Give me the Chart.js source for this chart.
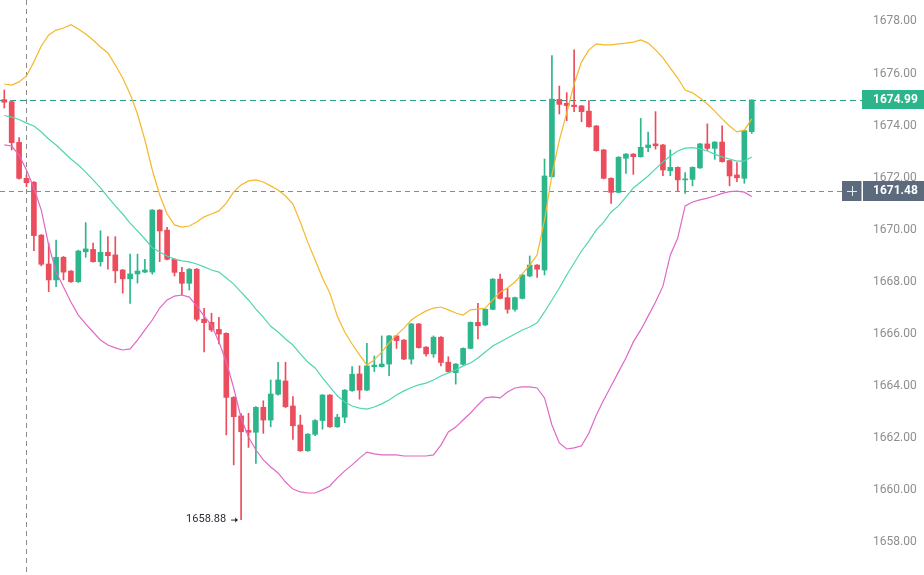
<!DOCTYPE html>
<html>
<head>
<meta charset="utf-8">
<script src="https://cdn.jsdelivr.net/npm/chart.js@4.4.1/dist/chart.umd.min.js"></script>
<style>
  html, body { margin: 0; padding: 0; background: #ffffff; }
  #wrap { width: 924px; height: 575px; position: relative; }
</style>
</head>
<body>
<div id="wrap"><canvas id="c" width="924" height="575"></canvas></div>
<script>
// ---------------- DATA ----------------
const opens = [1675.00,1674.92,1673.36,1671.98,1671.83,1669.80,1668.69,1668.08,1668.95,1668.42,
1668.01,1669.16,1669.25,1668.78,1669.14,1669.04,1668.46,1668.12,1668.31,1668.38,
1668.38,1670.76,1669.99,1668.87,1668.37,1667.95,1668.49,1666.57,1666.45,1666.18,
1666.03,1663.57,1662.86,1662.30,1662.23,1663.19,1662.70,1663.69,1664.20,1663.24,
1662.51,1661.52,1662.15,1662.68,1663.66,1662.44,1662.81,1663.83,1664.47,1663.85,
1664.75,1664.75,1664.85,1665.93,1665.77,1665.04,1666.39,1665.50,1665.24,1665.88,
1664.92,1664.52,1664.84,1665.45,1666.45,1666.35,1666.95,1668.11,1667.40,1666.95,
1667.37,1668.23,1668.65,1668.46,1672.04,1675.01,1674.86,1674.79,1674.76,1674.56,
1673.99,1673.07,1671.98,1671.44,1672.75,1672.91,1672.81,1673.16,1673.30,1673.26,
1672.27,1672.40,1671.92,1671.94,1672.38,1673.30,1673.13,1673.37,1672.66,1672.11,
1671.98,1673.77];
const highs = [1675.37,1674.96,1673.54,1672.10,1671.85,1669.82,1669.49,1669.61,1668.98,1668.44,
1669.22,1670.28,1669.49,1669.97,1669.74,1669.74,1668.48,1669.07,1669.07,1668.87,
1670.78,1670.78,1670.10,1668.90,1668.56,1668.52,1668.52,1666.99,1666.80,1666.64,
1666.05,1663.60,1662.95,1662.96,1663.22,1663.44,1664.24,1664.92,1664.92,1663.60,
1662.89,1662.18,1662.72,1663.68,1663.68,1662.92,1663.87,1664.75,1664.78,1665.65,
1665.16,1665.93,1665.95,1665.95,1665.79,1666.41,1666.41,1665.52,1665.93,1665.90,
1665.13,1664.87,1665.47,1666.47,1667.18,1666.97,1668.13,1668.30,1667.76,1667.42,
1668.29,1669.00,1668.67,1672.72,1676.69,1675.52,1675.27,1676.91,1674.78,1674.96,
1674.01,1673.09,1672.00,1672.81,1672.93,1672.93,1674.28,1673.75,1674.54,1673.28,
1673.07,1672.42,1672.20,1672.42,1673.32,1674.07,1673.39,1673.99,1672.68,1672.58,
1673.83,1674.99];
const lows = [1674.68,1673.07,1671.95,1671.66,1669.20,1668.62,1667.63,1667.82,1668.08,1667.98,
1667.98,1668.95,1668.76,1668.61,1668.49,1667.97,1667.57,1667.18,1667.96,1668.36,
1668.30,1668.78,1668.85,1668.23,1667.50,1667.69,1666.50,1665.32,1666.10,1665.62,
1662.13,1660.98,1658.88,1661.65,1661.04,1662.19,1662.44,1663.66,1663.18,1661.96,
1661.50,1661.50,1662.10,1662.35,1662.42,1662.42,1662.60,1663.80,1663.50,1663.83,
1664.56,1664.73,1664.40,1665.45,1665.02,1664.85,1665.46,1665.15,1665.11,1664.78,
1664.54,1664.08,1664.82,1665.43,1665.81,1666.33,1666.93,1667.35,1666.80,1666.88,
1667.35,1668.20,1668.18,1668.27,1672.02,1674.45,1674.19,1674.54,1674.15,1673.94,
1673.02,1671.96,1671.02,1671.42,1672.17,1672.13,1672.79,1673.00,1673.10,1672.08,
1672.08,1671.49,1671.40,1671.69,1672.36,1673.05,1672.71,1672.60,1671.69,1671.85,
1671.79,1673.70];
const closes = [1674.90,1673.35,1671.98,1671.81,1669.78,1668.68,1668.08,1668.95,1668.38,1668.01,
1669.19,1669.27,1668.78,1669.14,1669.01,1668.43,1668.12,1668.31,1668.42,1668.46,
1670.76,1669.96,1668.87,1668.37,1667.95,1668.49,1666.57,1666.44,1666.16,1666.00,
1663.57,1662.83,1662.25,1662.23,1663.19,1662.70,1663.70,1664.24,1663.21,1662.48,
1661.52,1662.16,1662.68,1663.66,1662.44,1662.81,1663.85,1664.46,1663.85,1664.78,
1664.81,1664.85,1665.93,1665.75,1665.04,1666.39,1665.48,1665.24,1665.88,1664.91,
1664.56,1664.85,1665.45,1666.45,1666.32,1666.95,1668.11,1667.37,1666.95,1667.40,
1668.27,1668.65,1668.49,1672.07,1675.02,1674.82,1674.77,1674.73,1674.54,1673.96,
1673.04,1671.98,1671.44,1672.79,1672.91,1672.81,1673.17,1673.26,1673.23,1672.30,
1672.40,1671.92,1671.95,1672.40,1673.30,1673.13,1673.37,1672.62,1672.07,1672.00,
1673.81,1674.99];

const bollUpper = [1675.60,1675.56,1675.68,1675.91,1676.45,1677.06,1677.48,1677.67,1677.75,1677.88,
1677.71,1677.52,1677.29,1677.02,1676.79,1676.33,1675.83,1675.22,1674.45,1673.45,
1672.30,1671.34,1670.61,1670.19,1670.11,1670.15,1670.30,1670.50,1670.61,1670.73,
1671.03,1671.46,1671.72,1671.88,1671.92,1671.84,1671.69,1671.53,1671.30,1670.99,
1670.30,1669.53,1668.85,1668.15,1667.57,1666.69,1666.08,1665.62,1665.20,1664.81,
1665.01,1665.31,1665.66,1665.96,1666.23,1666.54,1666.73,1666.89,1667.00,1667.04,
1666.93,1666.81,1666.73,1666.93,1666.96,1667.00,1667.31,1667.61,1667.77,1668.00,
1668.31,1668.65,1669.04,1670.38,1672.11,1673.45,1674.49,1675.60,1676.45,1676.91,
1677.14,1677.10,1677.10,1677.14,1677.17,1677.21,1677.29,1677.17,1676.91,1676.60,
1676.21,1675.83,1675.37,1675.26,1675.06,1674.83,1674.56,1674.26,1673.99,1673.76,
1673.83,1674.26];
const bollMiddle = [1674.39,1674.33,1674.24,1674.10,1673.99,1673.76,1673.49,1673.26,1672.99,1672.72,
1672.49,1672.22,1671.92,1671.61,1671.26,1670.92,1670.61,1670.26,1669.96,1669.65,
1669.31,1669.15,1669.00,1668.88,1668.81,1668.77,1668.69,1668.58,1668.46,1668.38,
1668.15,1667.92,1667.61,1667.31,1666.96,1666.65,1666.30,1666.08,1665.81,1665.58,
1665.24,1664.93,1664.70,1664.32,1663.97,1663.63,1663.39,1663.24,1663.16,1663.12,
1663.20,1663.32,1663.47,1663.66,1663.82,1663.95,1664.05,1664.12,1664.24,1664.39,
1664.51,1664.62,1664.78,1664.89,1665.08,1665.31,1665.54,1665.70,1665.85,1666.00,
1666.16,1666.27,1666.43,1666.85,1667.31,1667.77,1668.27,1668.73,1669.19,1669.57,
1670.00,1670.30,1670.69,1670.92,1671.26,1671.61,1671.84,1672.07,1672.34,1672.61,
1672.84,1673.03,1673.14,1673.16,1673.11,1673.03,1672.91,1672.80,1672.72,1672.64,
1672.64,1672.80];
const bollLower = [1673.26,1673.22,1672.87,1672.30,1671.61,1670.76,1669.42,1668.38,1667.81,1667.23,
1666.73,1666.39,1666.08,1665.77,1665.58,1665.47,1665.39,1665.43,1665.77,1666.16,
1666.54,1667.00,1667.31,1667.46,1667.50,1667.42,1667.08,1666.69,1666.35,1665.70,
1664.93,1663.93,1662.78,1662.05,1661.55,1661.17,1660.90,1660.67,1660.32,1660.05,
1659.94,1659.90,1659.90,1660.02,1660.17,1660.48,1660.75,1660.98,1661.24,1661.47,
1661.40,1661.36,1661.36,1661.36,1661.32,1661.32,1661.32,1661.32,1661.36,1661.74,
1662.24,1662.43,1662.70,1662.97,1663.28,1663.55,1663.59,1663.55,1663.78,1663.93,
1663.97,1663.97,1663.93,1663.55,1662.51,1661.82,1661.59,1661.63,1661.71,1662.20,
1662.89,1663.47,1664.01,1664.55,1665.08,1665.70,1666.16,1666.69,1667.23,1667.84,
1669.04,1669.69,1670.92,1671.07,1671.15,1671.22,1671.30,1671.40,1671.47,1671.49,
1671.45,1671.28];

const priceTicks = [1658,1660,1662,1664,1666,1668,1670,1672,1674,1676,1678];
const lastPrice = 1674.99;
const crosshairPrice = 1671.48;
const crosshairIndex = 3;
const minLowIndex = 32;

// ---------------- STYLE ----------------
const UP = '#2db68c';
const DOWN = '#eb4d5c';
const candleColor = opens.map((o, i) => closes[i] >= o ? UP : DOWN);

const wickData = lows.map((l, i) => ({ x: i, y: [l, highs[i]] }));
const bodyData = opens.map((o, i) => ({ x: i, y: [o, closes[i]] }));
const lineData = arr => arr.map((v, i) => ({ x: i, y: v }));

const overlayPlugin = {
  id: 'overlay',
  beforeDatasetsDraw(chart) {
    const { ctx, chartArea, scales } = chart;
    const xs = scales.x, ys = scales.y;
    ctx.save();
    ctx.lineWidth = 1;
    const cx = Math.round(xs.getPixelForValue(crosshairIndex)) + 0.5;
    ctx.strokeStyle = '#8a8a8a';
    ctx.setLineDash([5, 4]);
    ctx.beginPath(); ctx.moveTo(cx, 0); ctx.lineTo(cx, chart.height); ctx.stroke();
    const cy = Math.round(ys.getPixelForValue(crosshairPrice)) + 0.5;
    ctx.beginPath(); ctx.moveTo(0, cy); ctx.lineTo(chartArea.right - 20, cy); ctx.stroke();
    const ly = Math.round(ys.getPixelForValue(lastPrice)) + 0.5;
    ctx.strokeStyle = '#2a9d86';
    ctx.setLineDash([6, 4]);
    ctx.beginPath(); ctx.moveTo(0, ly); ctx.lineTo(chartArea.right, ly); ctx.stroke();
    ctx.restore();
  },
  afterDraw(chart) {
    const { ctx, chartArea, scales } = chart;
    const xs = scales.x, ys = scales.y;
    ctx.save();
    const right = chart.width;
    const axL = chartArea.right;
    const ly = ys.getPixelForValue(lastPrice);
    ctx.fillStyle = '#2cb48b';
    ctx.fillRect(axL, Math.round(ly) - 10, right - axL, 19);
    ctx.fillStyle = '#ffffff';
    ctx.font = 'bold 12px Roboto, "DejaVu Sans", sans-serif';
    ctx.textBaseline = 'middle';
    ctx.textAlign = 'left';
    ctx.fillText(lastPrice.toFixed(2), axL + 11, Math.round(ly));
    const cy = ys.getPixelForValue(crosshairPrice);
    ctx.fillStyle = '#5c6a7e';
    ctx.fillRect(axL - 20, Math.round(cy) - 10, 19.5, 20);
    ctx.fillRect(axL + 1, Math.round(cy) - 10, right - axL - 1, 20);
    ctx.strokeStyle = '#e8ebef';
    ctx.lineWidth = 1;
    const px = axL - 10, py = Math.round(cy);
    ctx.beginPath();
    ctx.moveTo(px - 5, py + 0.5); ctx.lineTo(px + 5, py + 0.5);
    ctx.moveTo(px + 0.5, py - 5); ctx.lineTo(px + 0.5, py + 5);
    ctx.stroke();
    ctx.fillStyle = '#ffffff';
    ctx.fillText(crosshairPrice.toFixed(2), axL + 11, py);
    const mx = xs.getPixelForValue(minLowIndex);
    const my = ys.getPixelForValue(lows[minLowIndex]);
    ctx.fillStyle = '#2b2b38';
    ctx.font = '11px Roboto, "DejaVu Sans", sans-serif';
    ctx.textAlign = 'right';
    ctx.fillText(lows[minLowIndex].toFixed(2), mx - 15, my);
    ctx.strokeStyle = '#2b2b38';
    ctx.beginPath();
    ctx.moveTo(mx - 10, my + 0.5); ctx.lineTo(mx - 4, my + 0.5);
    ctx.stroke();
    ctx.beginPath();
    ctx.moveTo(mx - 3, my + 0.5); ctx.lineTo(mx - 6, my - 2); ctx.lineTo(mx - 6, my + 3); ctx.closePath();
    ctx.fillStyle = '#2b2b38'; ctx.fill();
    ctx.restore();
  }
};

new Chart(document.getElementById('c'), {
  type: 'bar',
  data: {
    datasets: [
      { type: 'line', data: lineData(bollUpper), borderColor: '#f5b82a', borderWidth: 1.2, pointRadius: 0, tension: 0, order: 0 },
      { type: 'line', data: lineData(bollMiddle), borderColor: '#4fd6b2', borderWidth: 1.2, pointRadius: 0, tension: 0, order: 0 },
      { type: 'line', data: lineData(bollLower), borderColor: '#e068c6', borderWidth: 1.2, pointRadius: 0, tension: 0, order: 0 },
      { type: 'bar', data: bodyData, backgroundColor: candleColor, barThickness: 5, minBarLength: 1, grouped: false, borderWidth: 0, order: 1 },
      { type: 'bar', data: wickData, backgroundColor: candleColor, barThickness: 1, grouped: false, borderWidth: 0, order: 2 }
    ]
  },
  options: {
    responsive: false,
    animation: false,
    events: [],
    layout: { padding: 0 },
    plugins: { legend: { display: false }, tooltip: { enabled: false } },
    scales: {
      x: { type: 'linear', min: -0.58, max: 115.9, display: false, offset: false },
      y: {
        position: 'right',
        min: 1656.752, max: 1678.825,
        grid: { display: false, drawTicks: false },
        border: { display: false },
        afterBuildTicks: axis => { axis.ticks = priceTicks.map(v => ({ value: v })); },
        afterFit: axis => { axis.width = 62; axis.paddingTop = 0; axis.paddingBottom = 0; },
        ticks: {
          padding: 11,
          color: '#8e8e8e',
          font: { family: 'Roboto, "DejaVu Sans", sans-serif', size: 12 },
          callback: v => Number(v).toFixed(2)
        }
      }
    }
  },
  plugins: [overlayPlugin]
});
</script>
</body>
</html>
